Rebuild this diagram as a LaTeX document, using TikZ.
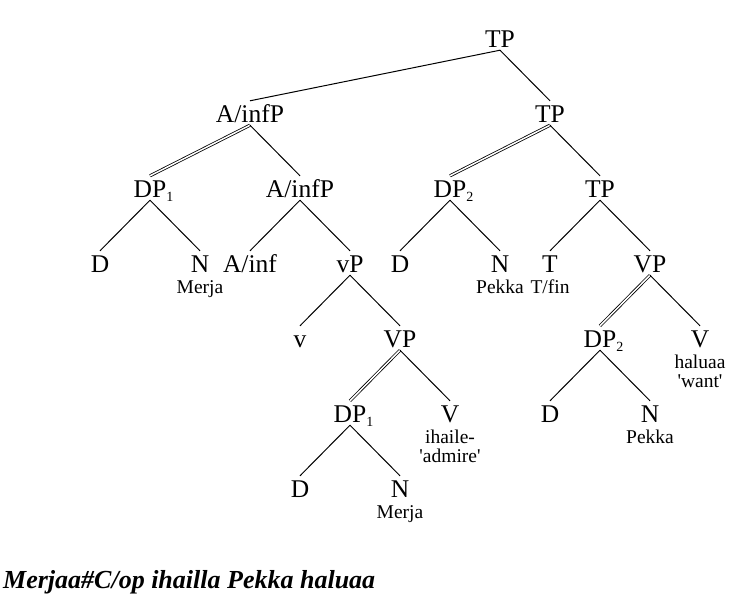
\documentclass[tikz,border=0pt]{standalone}
\usepackage{fontspec}
\usepackage{tikz}
\setmainfont{Liberation Serif}
\newfontfamily\treefont{Liberation Serif}
\newcommand{\subidx}[1]{\rlap{\fontsize{14}{14}\selectfont\raisebox{-4pt}{#1}}}

\begin{document}
\begin{tikzpicture}[
  x=1pt, y=-1pt,
  cat/.style={anchor=base, inner sep=0pt, text height=21pt, text depth=3pt, font=\treefont\fontsize{25.5}{25.5}\selectfont},
  gloss/.style={anchor=base, inner sep=0pt, align=center, font=\treefont\fontsize{19.5}{19}\selectfont},
  branch/.style={line width=1pt},
  dbranch/.style={double, double distance=1.5pt, line width=0.8pt}
]
\useasboundingbox (0,0) rectangle (750,600);

% Level 0 and 1
\node[cat] (tp) at (500,47) {TP};
\node[cat] (ainfp) at (250,122) {A/infP};
\node[cat] (tpa) at (550,122) {TP};

% Level 2
\node[cat] (dpone) at (150,197) {DP\subidx{1}};
\node[cat] (ainfpb) at (300,197) {A/infP};
\node[cat] (dptwo) at (450,197) {DP\subidx{2}};
\node[cat] (tpb) at (600,197) {TP};

% Level 3
\node[cat] (da) at (100,272) {D};
\node[cat] (na) at (200,272) {N};
\node[cat] (ainf) at (250,272) {A/inf};
\node[cat] (littlevp) at (350,272) {vP};
\node[cat] (db) at (400,272) {D};
\node[cat] (nb) at (500,272) {N};
\node[cat] (t) at (550,272) {T};
\node[cat] (vpa) at (650,272) {VP};

% Level 4
\node[cat] (littlev) at (300,347) {v};
\node[cat] (vpb) at (400,347) {VP};
\node[cat] (dptwob) at (600,347) {DP\subidx{2}};
\node[cat] (va) at (700,347) {V};

% Level 5
\node[cat] (dponeb) at (350,422) {DP\subidx{1}};
\node[cat] (vb) at (450,422) {V};
\node[cat] (dc) at (550,422) {D};
\node[cat] (nc) at (650,422) {N};

% Level 6
\node[cat] (dd) at (300,497) {D};
\node[cat] (nd) at (400,497) {N};

% Glosses
\node[gloss] (merja) at (200,293.5) {Merja};
\node[gloss] (pekka) at (500,293.5) {Pekka};
\node[gloss] (tfin) at (550,293.5) {T/fin};
\node[gloss] (haluaa) at (700,387.5) {haluaa\\'want'};
\node[gloss] (ihaile) at (450,462.5) {ihaile-\\'admire'};
\node[gloss] (pekkab) at (650,443.5) {Pekka};
\node[gloss] (merjab) at (400,518.5) {Merja};

% Sentence
\node[anchor=base west, inner sep=0pt, font=\fontsize{26}{26}\selectfont\bfseries\itshape] (sentence) at (3,588) {Merjaa\#C/op ihailla Pekka haluaa};

% Branches
\draw[branch] (tp.south) -- (ainfp.north);
\draw[branch] (tp.south) -- (tpa.north);
\draw[dbranch] (ainfp.south) -- (dpone.north);
\draw[branch] (ainfp.south) -- (ainfpb.north);
\draw[dbranch] (tpa.south) -- (dptwo.north);
\draw[branch] (tpa.south) -- (tpb.north);

\draw[branch] (dpone.south) -- (da.north);
\draw[branch] (dpone.south) -- (na.north);
\draw[branch] (ainfpb.south) -- (ainf.north);
\draw[branch] (ainfpb.south) -- (littlevp.north);
\draw[branch] (dptwo.south) -- (db.north);
\draw[branch] (dptwo.south) -- (nb.north);
\draw[branch] (tpb.south) -- (t.north);
\draw[branch] (tpb.south) -- (vpa.north);

\draw[branch] (littlevp.south) -- (littlev.north);
\draw[branch] (littlevp.south) -- (vpb.north);
\draw[dbranch] (vpa.south) -- (dptwob.north);
\draw[branch] (vpa.south) -- (va.north);

\draw[dbranch] (vpb.south) -- (dponeb.north);
\draw[branch] (vpb.south) -- (vb.north);
\draw[branch] (dptwob.south) -- (dc.north);
\draw[branch] (dptwob.south) -- (nc.north);

\draw[branch] (dponeb.south) -- (dd.north);
\draw[branch] (dponeb.south) -- (nd.north);

\end{tikzpicture}
\end{document}
